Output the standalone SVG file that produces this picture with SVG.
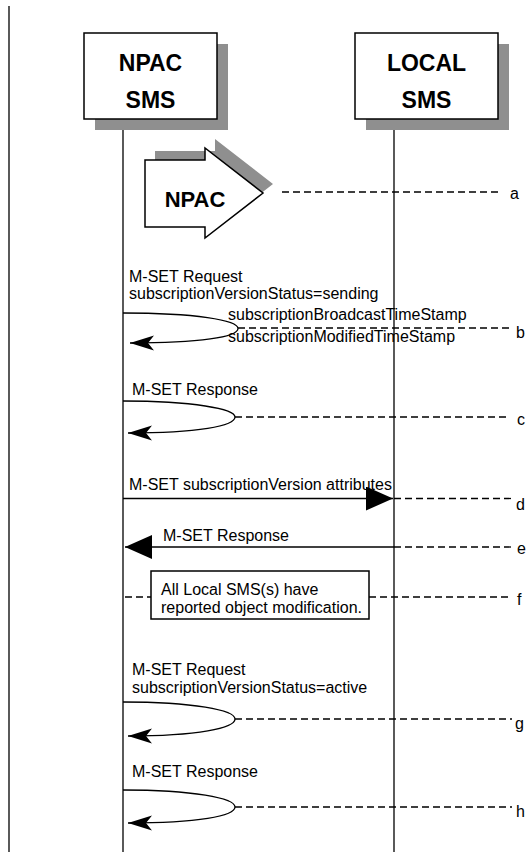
<svg xmlns="http://www.w3.org/2000/svg" width="527" height="852" viewBox="0 0 527 852">
<style>
text{font-family:"Liberation Sans",Arial,sans-serif;fill:#000}
.t{font-size:16px}
.h{font-size:23px;font-weight:bold;text-anchor:middle}
.ln{stroke:#000;stroke-width:1.3;fill:none}
.dash{stroke:#000;stroke-width:1.3;stroke-dasharray:7 4;fill:none}
.box{fill:#fff;stroke:#000;stroke-width:1.5}
.sh{fill:#8f8f8f}
</style>
<defs>
<marker id="notch" markerUnits="userSpaceOnUse" markerWidth="26" markerHeight="16" refX="24" refY="7.5" orient="auto" viewBox="0 0 26 16">
<path d="M0,0 L24,7.5 L0,15 L6,7.5 Z" fill="#000"/>
</marker>
<marker id="tri" markerUnits="userSpaceOnUse" markerWidth="28" markerHeight="25" refX="27" refY="12" orient="auto" viewBox="0 0 28 25">
<path d="M0,0 L27,12 L0,24 Z" fill="#000"/>
</marker>
</defs>
<line x1="9" y1="6" x2="9" y2="852" class="ln"/>
<g id="npac-sms">
<line x1="123" y1="119" x2="123" y2="852" class="ln"/>
<rect x="95" y="44" width="133" height="86" class="sh"/>
<rect x="84" y="33" width="133" height="86" class="box"/>
<text class="h" x="150.5" y="71">NPAC</text>
<text class="h" x="150.5" y="108">SMS</text>
</g>
<g id="local-sms">
<line x1="394" y1="119" x2="394" y2="852" class="ln"/>
<rect x="366" y="44" width="143" height="86" class="sh"/>
<rect x="355" y="33" width="143" height="86" class="box"/>
<text class="h" x="426.5" y="71">LOCAL</text>
<text class="h" x="426.5" y="108">SMS</text>
</g>
<g id="npac-event">
<path d="M145,160 L205,160 L205,148 L263,193 L205,238 L205,227 L145,227 Z" class="sh" transform="translate(10,-9)"/>
<path d="M145,160 L205,160 L205,148 L263,193 L205,238 L205,227 L145,227 Z" class="box" stroke-width="1.3"/>
<text x="195" y="207" font-size="22" font-weight="bold" text-anchor="middle">NPAC</text>
</g>
<g id="note-f">
<rect x="151" y="571" width="218" height="48" class="box" stroke-width="1.3"/>
<text class="t" x="161" y="595">All Local SMS(s) have</text>
<text class="t" x="161" y="613">reported object modification.</text>
</g>
<g id="connectors">
<line x1="282" y1="192" x2="501" y2="192" class="dash"/>
<path d="M123,313 C195,313 238,320 238,328.5 C238,337 200,343 130,343" class="ln" marker-end="url(#notch)"/>
<line x1="238" y1="328" x2="510" y2="328" class="dash"/>
<path d="M123,401 C193,401 235,409 235,417 C235,426 198,433 128,433" class="ln" marker-end="url(#notch)"/>
<line x1="235" y1="417" x2="510" y2="417" class="dash"/>
<line x1="123" y1="498.5" x2="393" y2="498.5" class="ln" marker-end="url(#tri)"/>
<line x1="394" y1="498.5" x2="512" y2="498.5" class="dash"/>
<line x1="394" y1="547" x2="125" y2="547" class="ln" marker-end="url(#tri)"/>
<line x1="394" y1="547" x2="512" y2="547" class="dash"/>
<line x1="125" y1="597" x2="151" y2="597" class="dash"/>
<line x1="369" y1="597" x2="508" y2="597" class="dash"/>
<path d="M123,702 C193,702 235,710 235,719 C235,728 198,736 128,736" class="ln" marker-end="url(#notch)"/>
<line x1="235" y1="719" x2="512" y2="719" class="dash"/>
<path d="M123,790 C193,790 235,798 235,807 C235,816 198,823 128,823" class="ln" marker-end="url(#notch)"/>
<line x1="235" y1="807" x2="512" y2="807" class="dash"/>
</g>
<g id="labels">
<text class="t" x="129" y="282">M-SET Request</text>
<text class="t" x="129" y="299">subscriptionVersionStatus=sending</text>
<text class="t" x="228" y="320">subscriptionBroadcastTimeStamp</text>
<text class="t" x="228" y="342">subscriptionModifiedTimeStamp</text>
<text class="t" x="132" y="395">M-SET Response</text>
<text class="t" x="129" y="490">M-SET subscriptionVersion attributes</text>
<text class="t" x="163" y="541">M-SET Response</text>
<text class="t" x="132" y="675">M-SET Request</text>
<text class="t" x="132" y="693">subscriptionVersionStatus=active</text>
<text class="t" x="132" y="777">M-SET Response</text>
<text class="t" x="510" y="199">a</text>
<text class="t" x="516" y="338">b</text>
<text class="t" x="517" y="425">c</text>
<text class="t" x="516" y="510">d</text>
<text class="t" x="517" y="554">e</text>
<text class="t" x="517" y="605">f</text>
<text class="t" x="515" y="729">g</text>
<text class="t" x="516" y="817">h</text>
</g>
</svg>
